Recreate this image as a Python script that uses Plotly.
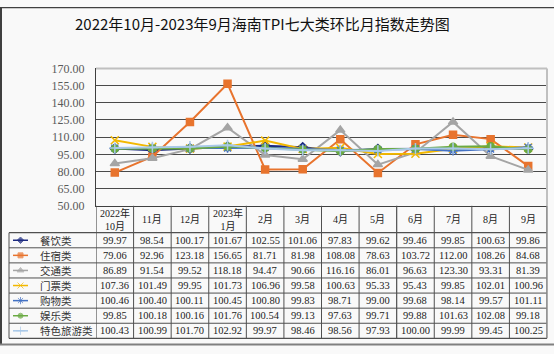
import plotly.graph_objects as go

W, H = 554, 354

categories = ["2022年<br>10月", "11月", "12月", "2023年<br>1月", "2月", "3月",
              "4月", "5月", "6月", "7月", "8月", "9月"]
series_names = ["餐饮类", "住宿类", "交通类", "门票类", "购物类", "娱乐类", "特色旅游类"]

canyin = [99.97, 98.54, 100.17, 101.67, 102.55, 101.06, 97.83, 99.62, 99.46, 99.85, 100.63, 99.86]
zhusu = [79.06, 92.96, 123.18, 156.65, 81.71, 81.98, 108.08, 78.63, 103.72, 112.00, 108.26, 84.68]
jiaotong = [86.89, 91.54, 99.52, 118.18, 94.47, 90.66, 116.16, 86.01, 96.63, 123.30, 93.31, 81.39]
menpiao = [107.36, 101.49, 99.95, 101.73, 106.96, 99.58, 100.63, 95.33, 95.43, 99.85, 102.01, 100.96]
gouwu = [100.46, 100.40, 100.11, 100.45, 100.80, 99.83, 98.71, 99.00, 99.68, 98.14, 99.57, 101.11]
yule = [99.85, 100.18, 100.16, 101.76, 100.54, 99.13, 97.63, 99.71, 99.88, 101.63, 102.08, 99.18]
tese = [100.43, 100.99, 101.70, 102.92, 99.97, 98.46, 98.56, 97.93, 100.00, 99.99, 99.45, 100.25]

y_ticks = [50, 65, 80, 95, 110, 125, 140, 155, 170]

all_series = [canyin, zhusu, jiaotong, menpiao, gouwu, yule, tese]
colors = ["#1c2a80", "#e8742e", "#a5a5a5", "#f2b800", "#4472c4", "#6aaa42", "#a8c8e8"]
symbols = ["diamond", "square", "triangle-up", "x-thin-open", "asterisk-open", "circle", "cross-thin-open"]
msizes = [7, 7, 8, 8, 8, 7, 8]

# layout geometry (pixels)
PL, PR, PT, PB = 96, 547, 64, 207
HEAD_B = 235
ROW_H = (345 - HEAD_B) / 7
TBL_L = 9

serif = "Liberation Serif, Noto Sans CJK SC, serif"
cjk = "Noto Sans CJK SC, sans-serif"

fig = go.Figure()
xs = list(range(len(categories)))

for name, vals, c, s, ms in zip(series_names, all_series, colors, symbols, msizes):
    fig.add_trace(go.Scatter(
        x=xs, y=vals, mode="lines+markers", name=name, showlegend=False,
        line=dict(color=c, width=2),
        marker=dict(symbol=s, size=ms, color=c, line=dict(color=c, width=1.5)),
        cliponaxis=False, xaxis="x", yaxis="y"))

# legend keys in table
for i, (name, c, s, ms) in enumerate(zip(series_names, colors, symbols, msizes)):
    yc = HEAD_B + (i + 0.5) * ROW_H
    fig.add_trace(go.Scatter(
        x=[13, 20.5, 28], y=[yc, yc, yc], mode="lines+markers", showlegend=False,
        line=dict(color=c, width=1.5),
        marker=dict(symbol=s, size=[0, ms - 2, 0], color=c, line=dict(color=c, width=1)),
        cliponaxis=False, xaxis="x2", yaxis="y2", hoverinfo="skip"))

shapes = []
ann = []
line_c = "#505050"

# plot border (light gray) top and right
shapes.append(dict(type="line", xref="x2", yref="y2", x0=PL, x1=PR, y0=PT, y1=PT,
                   line=dict(color="#c0c0c0", width=2), layer="above"))
shapes.append(dict(type="line", xref="x2", yref="y2", x0=PR, x1=PR, y0=PT, y1=PB,
                   line=dict(color="#c0c0c0", width=2), layer="above"))

# table horizontal lines
for k in range(8):
    yy = HEAD_B + k * ROW_H
    shapes.append(dict(type="line", xref="x2", yref="y2", x0=TBL_L, x1=PR, y0=yy, y1=yy,
                       line=dict(color=line_c, width=1.2 if k in (0, 7) else 1)))
shapes.append(dict(type="line", xref="x2", yref="y2", x0=TBL_L, x1=TBL_L, y0=HEAD_B, y1=345,
                   line=dict(color=line_c, width=1)))
# table vertical lines at category boundaries
for k in range(len(categories) + 1):
    xx = k - 0.5
    shapes.append(dict(type="line", xref="x", yref="y2", x0=xx, x1=xx, y0=PB, y1=345,
                       line=dict(color=line_c, width=1.2 if k in (0, 8) else 1)))
shapes.append(dict(type="line", xref="x2", yref="y2", x0=PR, x1=PR, y0=PB, y1=345,
                   line=dict(color="#909090", width=1.5)))

# outer frame
shapes.append(dict(type="line", xref="x2", yref="y2", x0=0, x1=W, y0=0.5, y1=0.5,
                   line=dict(color="#404040", width=1.5)))
shapes.append(dict(type="line", xref="x2", yref="y2", x0=1, x1=1, y0=0, y1=352,
                   line=dict(color="#404040", width=2)))
shapes.append(dict(type="line", xref="x2", yref="y2", x0=0, x1=W, y0=351.5, y1=351.5,
                   line=dict(color="#808080", width=2)))

# header
for i, cat in enumerate(categories):
    ann.append(dict(xref="x", yref="y2", x=i, y=(PB + HEAD_B) / 2, text=cat, showarrow=False,
                    font=dict(family=serif, size=10, color="#222"), align="center"))
# cells
for r, (name, vals) in enumerate(zip(series_names, all_series)):
    yc = HEAD_B + (r + 0.5) * ROW_H
    ann.append(dict(xref="x2", yref="y2", x=38, y=yc, text=name, showarrow=False, xanchor="left",
                    font=dict(family=cjk, size=10.5, color="#333")))
    for i, v in enumerate(vals):
        ann.append(dict(xref="x", yref="y2", x=i, y=yc, text=f"{v:.2f}", showarrow=False,
                        font=dict(family=serif, size=10.5, color="#222")))

# title
ann.append(dict(xref="x2", yref="y2", x=262, y=17,
                text="2022年10月-2023年9月海南TPI七大类环比月指数走势图", showarrow=False,
                font=dict(family=cjk, size=15, color="#111")))

fig.update_layout(
    width=W, height=H, margin=dict(l=0, r=0, t=0, b=0),
    paper_bgcolor="#f9f9f9", plot_bgcolor="rgba(0,0,0,0)",
    shapes=shapes, annotations=ann,
    xaxis=dict(domain=[PL / W, PR / W], range=[-0.5, len(categories) - 0.5],
               showgrid=False, zeroline=False, showticklabels=False, ticks="",
               showline=True, linecolor="#404040", linewidth=1.2, fixedrange=True),
    yaxis=dict(domain=[(H - PB) / H, (H - PT) / H], range=[50, 170],
               tickvals=y_ticks, ticktext=[f"{t:.2f}" for t in y_ticks],
               tickfont=dict(family=serif, size=12, color="#595959"),
               showgrid=True, gridcolor="#4a4a4a", gridwidth=1, zeroline=False,
               showline=True, linecolor="#404040", linewidth=1.2, ticks="",
               ticklabelstandoff=8, fixedrange=True),
    xaxis2=dict(domain=[0, 1], range=[0, W], visible=False, fixedrange=True),
    yaxis2=dict(domain=[0, 1], range=[H, 0], visible=False, fixedrange=True, anchor="x2"),
)

fig.write_html("out.html")
